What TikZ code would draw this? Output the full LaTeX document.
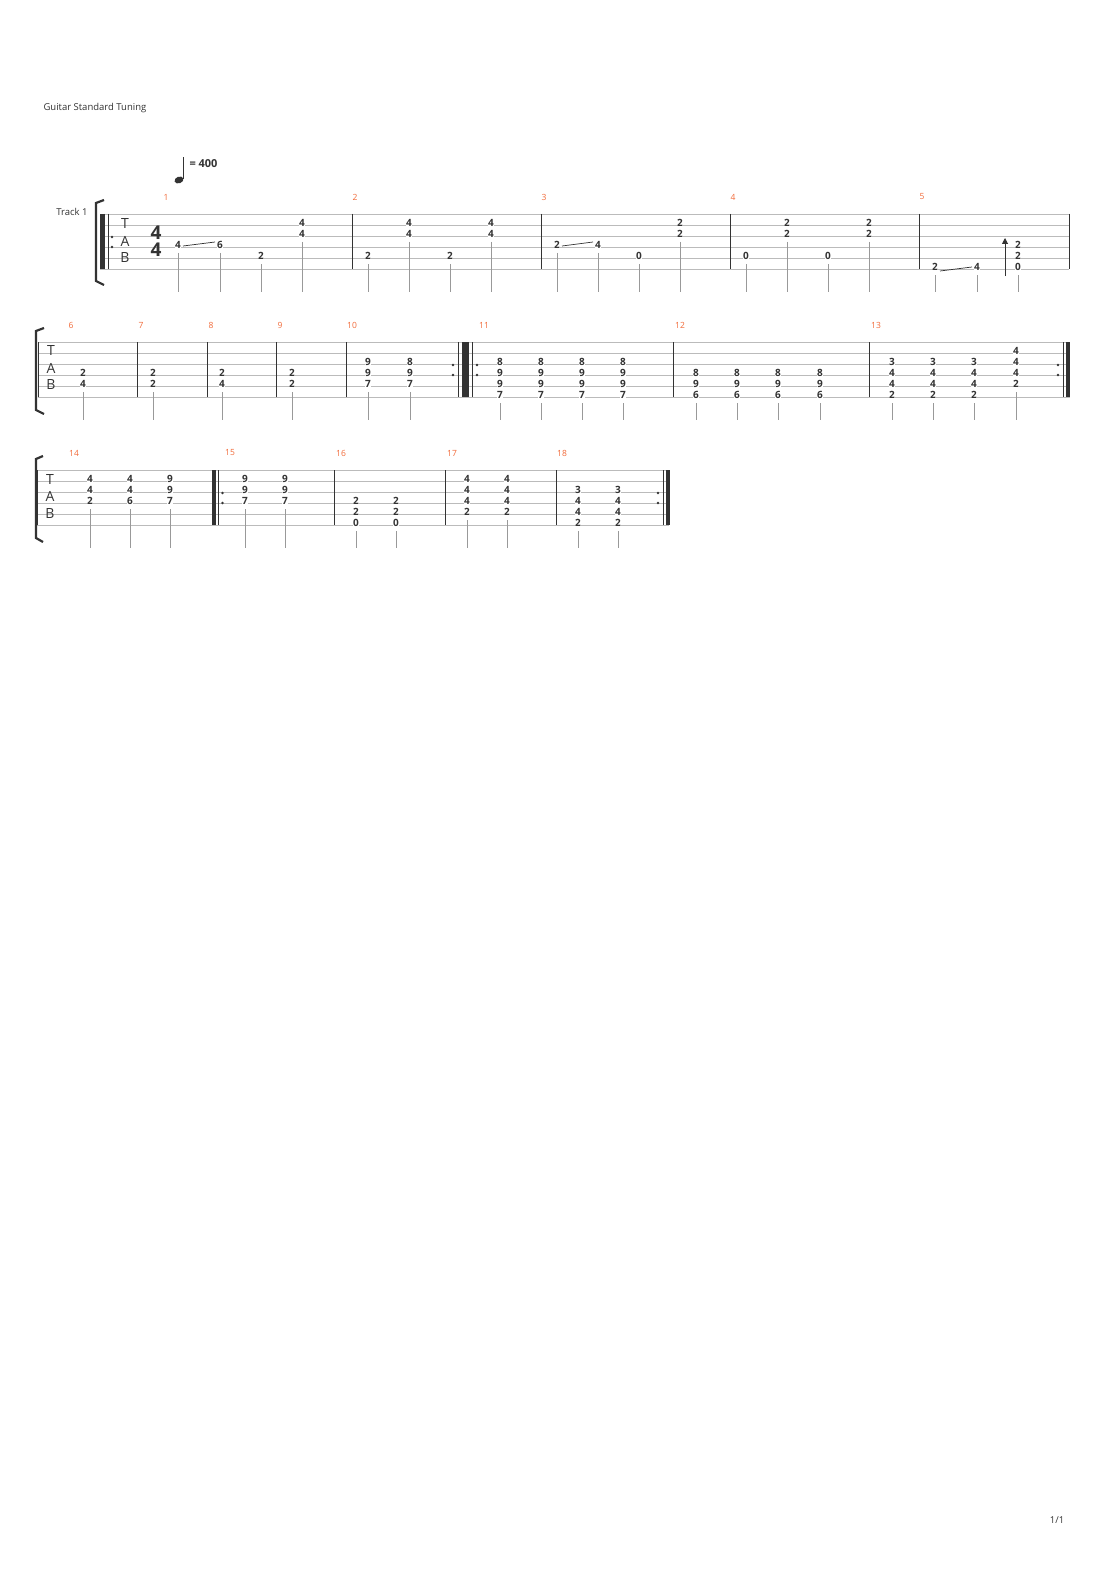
\documentclass[tikz,border=0pt]{standalone}
\usepackage{fontspec}
\setmainfont{Open Sans}
\usetikzlibrary{arrows.meta}
\definecolor{ink}{HTML}{333333}
\definecolor{staffc}{HTML}{BBBBBB}
\definecolor{stemc}{HTML}{999999}
\definecolor{numc}{HTML}{F26B3A}
\tikzset{
  fret/.style={font=\fontsize{10}{10}\selectfont\bfseries, text=ink, fill=white, inner sep=0.6pt, anchor=center},
  mnum/.style={font=\fontsize{8.5}{9}\selectfont, text=numc},
  staffline/.style={staffc, line width=0.8pt},
  barl/.style={ink, line width=1pt},
  thickbar/.style={ink, line width=4.5pt},
  stemline/.style={stemc, line width=0.9pt},
  tabletter/.style={font=\fontsize{14}{14}\selectfont, text=ink},
  lbl/.style={font=\fontsize{9.5}{10}\selectfont, text=ink},
  rdot/.style={fill=ink, draw=none},
  bracketl/.style={ink, line width=2.2pt}
}
% \nt{x}{top}{list of string/fret}{stembottom}
\newcommand\notecol[3]{%
  \def\lowest{0}%
  \foreach \s/\f in {#3}{%
    \node[fret] at (#1,{#2+11*(\s-1)-2.5}) {\f};
    \pgfmathparse{max(\lowest,\s)}\xdef\lowest{\pgfmathresult}%
  }%
  \draw[stemline] (#1,{#2+11*(\lowest-1)+6}) -- (#1,#2+78);
  \gdef\lowest{0}%
}
\newcommand\staffsix[3]{% top, x1, x2
  \foreach \k in {0,...,5} \draw[staffline] (#2,{#1+11*\k}) -- (#3,{#1+11*\k});
}
\newcommand\rdots[2]{% x, top
  \fill[rdot] (#1,#2+23) circle (1.3);
  \fill[rdot] (#1,#2+33) circle (1.3);
}
\begin{document}
\begin{tikzpicture}[x=1pt,y=-1pt]
\useasboundingbox (0,0) rectangle (1110,1570);
\fill[white] (0,0) rectangle (1110,1570);

\node[lbl, anchor=west] (tuning) at (40,108) {Guitar Standard Tuning};
\node[lbl, anchor=east] (track) at (91,212) {Track 1};
\fill[ink, rotate around={20:(179,180)}] (179,180) ellipse (4.6 and 3.3);
\draw[ink, line width=0.9pt] (183.3,179) -- (183.3,157);
\node[anchor=west, font=\fontsize{11}{11}\selectfont\bfseries, text=ink] (tempo) at (186,164) {= 400};
\node[anchor=center] (pg) at (1057,1520) {\fontsize{9.5}{10}\selectfont\color{ink}1/1};

%% ---------- System 1 (top 214)
\def\T{214}
\staffsix{214}{100}{1069}
\draw[bracketl] (104,200) -- (96,203) -- (96,281) -- (104,285);
\draw[ink, line width=5pt] (102,214) -- (102,269);
\draw[barl] (108,214) -- (108,269);
\rdots{112}{214}
\node[tabletter] (t1) at (125,224) {T};
\node[tabletter] (a1) at (125,241) {A};
\node[tabletter] (b1) at (125,258) {B};
\node[font=\fontsize{19}{19}\selectfont\bfseries, text=ink] (ts1) at (156,233) {4};
\node[font=\fontsize{19}{19}\selectfont\bfseries, text=ink] (ts2) at (156,250) {4};
\foreach \x in {352,541,730,919,1069} \draw[barl] (\x,214) -- (\x,269);
\foreach \x/\n in {166/1,355/2,544/3,733/4,922/5} \node[mnum] at (\x,197) {\n};
\notecol{178}{214}{4/4}
\notecol{220}{214}{4/6}
\notecol{261}{214}{5/2}
\notecol{302}{214}{2/4,3/4}
\notecol{368}{214}{5/2}
\notecol{409}{214}{2/4,3/4}
\notecol{450}{214}{5/2}
\notecol{491}{214}{2/4,3/4}
\notecol{557}{214}{4/2}
\notecol{598}{214}{4/4}
\notecol{639}{214}{5/0}
\notecol{680}{214}{2/2,3/2}
\notecol{746}{214}{5/0}
\notecol{787}{214}{2/2,3/2}
\notecol{828}{214}{5/0}
\notecol{869}{214}{2/2,3/2}
\notecol{935}{214}{6/2}
\notecol{977}{214}{6/4}
\notecol{1018}{214}{4/2,5/2,6/0}
\draw[ink, line width=0.7pt] (183,246) -- (215,242);
\draw[ink, line width=0.7pt] (562,246) -- (593,242);
\draw[ink, line width=0.7pt] (940,271) -- (972,267);
\draw[ink, line width=1pt, -{Triangle[length=6pt,width=6pt]}] (1005,276) -- (1005,238);

%% ---------- System 2 (top 342)
\staffsix{342}{38}{1070}
\draw[bracketl] (44,328) -- (36,331) -- (36,410) -- (44,414);
\draw[barl] (38,342) -- (38,397);
\node[tabletter] (t2) at (51,351) {T};
\node[tabletter] (a2) at (51,368) {A};
\node[tabletter] (b2) at (51,385) {B};
\foreach \x in {137,207,276,346,458,472,673,869,1063} \draw[barl] (\x,342) -- (\x,397);
\draw[ink, line width=7pt] (465,342) -- (465,397);
\draw[ink, line width=4pt] (1068,342) -- (1068,397);
\rdots{453}{342}
\rdots{477}{342}
\rdots{1058}{342}
\foreach \x/\n in {71/6,141/7,211/8,280/9,352/10,484/11,680/12,876/13} \node[mnum] at (\x,325) {\n};
\notecol{83}{342}{4/2,5/4}
\notecol{153}{342}{4/2,5/2}
\notecol{222}{342}{4/2,5/4}
\notecol{292}{342}{4/2,5/2}
\notecol{368}{342}{3/9,4/9,5/7}
\notecol{410}{342}{3/8,4/9,5/7}
\foreach \x in {500,541,582,623} {\notecol{\x}{342}{3/8,4/9,5/9,6/7}}
\foreach \x in {696,737,778,820} {\notecol{\x}{342}{4/8,5/9,6/6}}
\foreach \x in {892,933,974} {\notecol{\x}{342}{3/3,4/4,5/4,6/2}}
\notecol{1016}{342}{2/4,3/4,4/4,5/2}

%% ---------- System 3 (top 470)
\staffsix{470}{37}{669}
\draw[bracketl] (43,456) -- (36,459) -- (36,538) -- (43,542);
\draw[barl] (37,470) -- (37,525);
\node[tabletter] (t3) at (50,479) {T};
\node[tabletter] (a3) at (50,496) {A};
\node[tabletter] (b3) at (50,513) {B};
\draw[ink, line width=4pt] (214,470) -- (214,525);
\draw[ink, line width=4pt] (668,470) -- (668,525);
\foreach \x in {218.5,334,445,556,663.5} \draw[barl] (\x,470) -- (\x,525);
\rdots{222.5}{470}
\rdots{658}{470}
\foreach \x/\n in {74/14,230/15,341/16,452/17,562/18} \node[mnum] at (\x,453) {\n};
\notecol{90}{470}{2/4,3/4,4/2}
\notecol{130}{470}{2/4,3/4,4/6}
\notecol{170}{470}{2/9,3/9,4/7}
\notecol{245}{470}{2/9,3/9,4/7}
\notecol{285}{470}{2/9,3/9,4/7}
\notecol{356}{470}{4/2,5/2,6/0}
\notecol{396}{470}{4/2,5/2,6/0}
\notecol{467}{470}{2/4,3/4,4/4,5/2}
\notecol{507}{470}{2/4,3/4,4/4,5/2}
\notecol{578}{470}{3/3,4/4,5/4,6/2}
\notecol{618}{470}{3/3,4/4,5/4,6/2}
\end{tikzpicture}
\end{document}
